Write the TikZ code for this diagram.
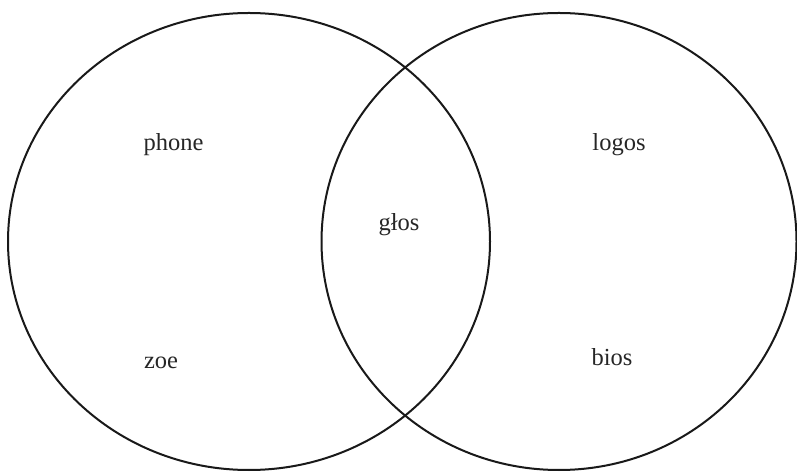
\documentclass[tikz,border=0pt]{standalone}
\usepackage{fontspec}
\setmainfont{Liberation Serif}
\begin{document}
\begin{tikzpicture}[x=1pt,y=1pt,
  setline/.style={draw=black!90, line width=2pt},
  lbl/.style={font=\fontsize{24.5}{28}\selectfont, text=black!85, inner sep=0pt}]
\useasboundingbox (0,0) rectangle (797,471);
\draw[setline] (249,229.5) ellipse [x radius=241, y radius=228.5];
\draw[setline] (559,229.5) ellipse [x radius=237.5, y radius=228.5];
\node[lbl] (phone) at (173.5,326) {phone};
\node[lbl] (zoe) at (161,108) {zoe};
\node[lbl] (glos) at (399,246) {głos};
\node[lbl] (logos) at (619,326) {logos};
\node[lbl] (bios) at (612,114) {bios};
\end{tikzpicture}
\end{document}
